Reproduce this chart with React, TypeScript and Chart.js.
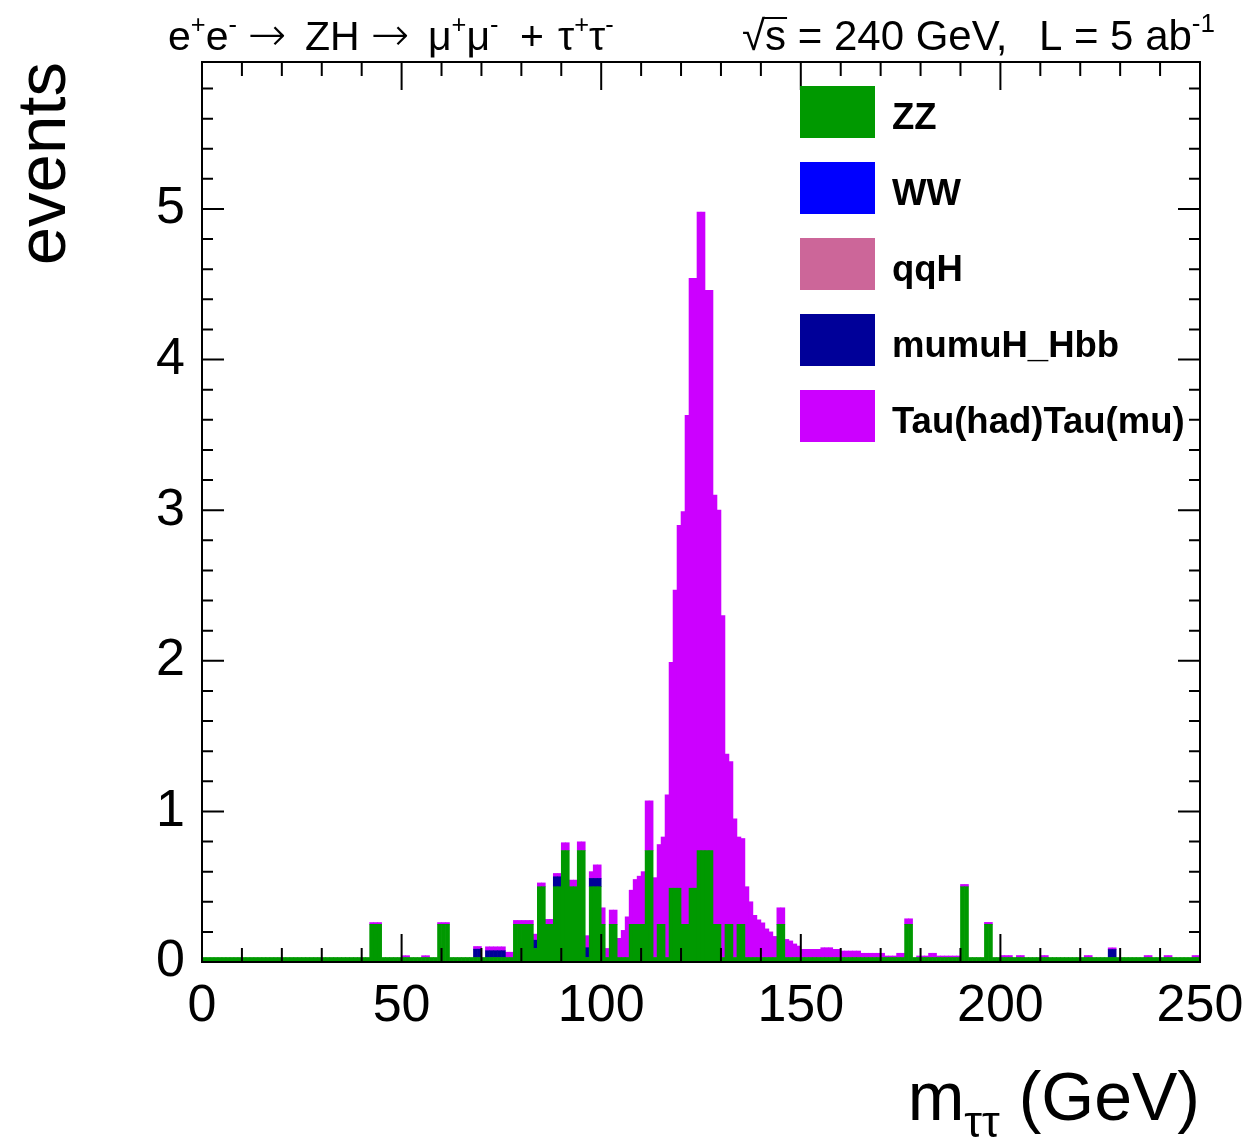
import React, { useEffect, useRef } from 'react';
import { Chart, registerables } from 'chart.js';

Chart.register(...registerables);

// ---------- data ----------
const X_MIN = 0;
const X_MAX = 250;
const BIN_WIDTH = 1; // GeV
const Y_MAX = 5.976;
const X_TICK_LABELS = [0, 50, 100, 150, 200, 250];
const Y_TICK_LABELS = [0, 1, 2, 3, 4, 5];

const SERIES_NAMES = ['ZZ', 'WW', 'qqH', 'mumuH_Hbb', 'Tau(had)Tau(mu)'];
const SERIES_COLORS = ['#009900', '#0000ff', '#cc6699', '#000099', '#cc00ff'];

// bin contents, bin i covers [i, i+1) GeV
const ZZ = [
  0.03, 0.03, 0.03, 0.03, 0.03, 0.03, 0.03, 0.03, 0.03, 0.03,
  0.03, 0.03, 0.03, 0.03, 0.03, 0.03, 0.03, 0.03, 0.03, 0.03,
  0.03, 0.03, 0.03, 0.03, 0.03, 0.03, 0.03, 0.03, 0.03, 0.03,
  0.03, 0.03, 0.03, 0.03, 0.03, 0.03, 0.03, 0.03, 0.03, 0.03,
  0.03, 0.03, 0.25, 0.25, 0.25, 0.03, 0.03, 0.03, 0.03, 0.03,
  0.03, 0.03, 0.03, 0.03, 0.03, 0.03, 0.03, 0.03, 0.03, 0.25,
  0.25, 0.25, 0.03, 0.03, 0.03, 0.03, 0.03, 0.03, 0.03, 0.03,
  0.03, 0.03, 0.03, 0.03, 0.03, 0.03, 0.03, 0.03, 0.25, 0.25,
  0.25, 0.25, 0.25, 0.09, 0.5, 0.5, 0.25, 0.25, 0.5, 0.5,
  0.74, 0.74, 0.5, 0.5, 0.74, 0.74, 0.03, 0.5, 0.5, 0.5,
  0.25, 0.03, 0.25, 0.25, 0.03, 0.03, 0.03, 0.25, 0.25, 0.25,
  0.25, 0.74, 0.74, 0.03, 0.25, 0.25, 0.03, 0.49, 0.49, 0.49,
  0.25, 0.25, 0.49, 0.49, 0.74, 0.74, 0.74, 0.74, 0.25, 0.25,
  0.03, 0.25, 0.25, 0.03, 0.25, 0.25, 0.03, 0.03, 0.03, 0.03,
  0.03, 0.03, 0.03, 0.03, 0.25, 0.25, 0.03, 0.03, 0.03, 0.03,
  0.03, 0.03, 0.03, 0.03, 0.03, 0.03, 0.03, 0.03, 0.03, 0.03,
  0.03, 0.03, 0.03, 0.03, 0.03, 0.03, 0.03, 0.03, 0.03, 0.03,
  0.03, 0.03, 0.03, 0.03, 0.03, 0.03, 0.25, 0.25, 0.03, 0.03,
  0.03, 0.03, 0.03, 0.03, 0.03, 0.03, 0.03, 0.03, 0.03, 0.03,
  0.5, 0.5, 0.03, 0.03, 0.03, 0.03, 0.25, 0.25, 0.03, 0.03,
  0.03, 0.03, 0.03, 0.03, 0.03, 0.03, 0.03, 0.03, 0.03, 0.03,
  0.03, 0.03, 0.03, 0.03, 0.03, 0.03, 0.03, 0.03, 0.03, 0.03,
  0.03, 0.03, 0.03, 0.03, 0.03, 0.03, 0.03, 0.03, 0.03, 0.03,
  0.03, 0.03, 0.03, 0.03, 0.03, 0.03, 0.03, 0.03, 0.03, 0.03,
  0.03, 0.03, 0.03, 0.03, 0.03, 0.03, 0.03, 0.03, 0.03, 0.03,
];

const WW: number[] = [];
const QQH: number[] = [];

const HBB = [
  0, 0, 0, 0, 0, 0, 0, 0, 0, 0,
  0, 0, 0, 0, 0, 0, 0, 0, 0, 0,
  0, 0, 0, 0, 0, 0, 0, 0, 0, 0,
  0, 0, 0, 0, 0, 0, 0, 0, 0, 0,
  0, 0, 0, 0, 0, 0, 0, 0, 0, 0,
  0, 0, 0, 0, 0, 0, 0, 0, 0, 0,
  0, 0, 0, 0, 0, 0, 0, 0, 0.055, 0.055,
  0, 0.045, 0.045, 0.045, 0.045, 0.045, 0, 0, 0, 0,
  0, 0, 0, 0.055, 0, 0, 0, 0, 0.066, 0.066,
  0, 0, 0, 0, 0, 0, 0.065, 0.055, 0.055, 0.055,
  0, 0, 0, 0, 0, 0, 0, 0, 0, 0,
  0, 0, 0, 0, 0, 0, 0, 0, 0, 0,
  0, 0, 0, 0, 0, 0, 0, 0, 0, 0,
  0, 0, 0, 0, 0, 0, 0, 0, 0, 0,
  0, 0, 0, 0, 0, 0, 0, 0, 0, 0,
  0, 0, 0, 0, 0, 0, 0, 0, 0, 0,
  0, 0, 0, 0, 0, 0, 0, 0, 0, 0,
  0, 0, 0, 0, 0, 0, 0, 0, 0, 0,
  0, 0, 0, 0, 0, 0, 0, 0, 0, 0,
  0, 0, 0, 0, 0, 0, 0, 0, 0, 0,
  0, 0, 0, 0, 0, 0, 0, 0, 0, 0,
  0, 0, 0, 0, 0, 0, 0, 0, 0, 0,
  0, 0, 0, 0, 0, 0, 0, 0.053, 0.053, 0,
  0, 0, 0, 0, 0, 0, 0, 0, 0, 0,
  0, 0, 0, 0, 0, 0, 0, 0, 0, 0,
];

const TAUTAU = [
  0, 0, 0, 0, 0, 0, 0, 0, 0, 0,
  0, 0, 0, 0, 0, 0, 0, 0, 0, 0,
  0, 0, 0, 0, 0, 0, 0, 0, 0, 0,
  0, 0, 0, 0, 0, 0, 0, 0, 0, 0,
  0, 0, 0.012, 0.012, 0.012, 0, 0, 0, 0, 0,
  0.012, 0.012, 0, 0, 0, 0.012, 0.012, 0, 0, 0.012,
  0.012, 0.012, 0, 0, 0, 0, 0, 0, 0.018, 0.018,
  0, 0.026, 0.026, 0.026, 0.026, 0.026, 0.035, 0.035, 0.026, 0.026,
  0.026, 0.026, 0.026, 0.04, 0.025, 0.025, 0.033, 0.033, 0.022, 0.022,
  0.052, 0.052, 0.044, 0.044, 0.058, 0.058, 0.08, 0.045, 0.09, 0.09,
  0.11, 0.06, 0.095, 0.095, 0.127, 0.18, 0.27, 0.227, 0.298, 0.32,
  0.35, 0.33, 0.33, 0.53, 0.53, 0.58, 1.08, 1.5, 1.98, 2.41,
  2.74, 3.38, 4.05, 4.05, 4.24, 4.24, 3.72, 3.72, 2.85, 2.75,
  2.27, 1.13, 1.08, 0.92, 0.58, 0.57, 0.47, 0.37, 0.28, 0.25,
  0.23, 0.19, 0.17, 0.14, 0.11, 0.11, 0.12, 0.11, 0.09, 0.076,
  0.054, 0.054, 0.054, 0.054, 0.054, 0.065, 0.065, 0.065, 0.054, 0.054,
  0.043, 0.043, 0.043, 0.043, 0.043, 0.028, 0.028, 0.028, 0.028, 0.028,
  0.028, 0.01, 0.01, 0.01, 0.028, 0.028, 0.037, 0.037, 0, 0.01,
  0.01, 0.01, 0.028, 0.028, 0.01, 0.01, 0.01, 0.01, 0.01, 0.01,
  0.015, 0.015, 0, 0, 0, 0, 0.013, 0.013, 0, 0,
  0.013, 0.013, 0.013, 0, 0.013, 0.013, 0, 0, 0, 0,
  0.013, 0.013, 0, 0, 0, 0, 0, 0, 0, 0,
  0, 0.013, 0.013, 0, 0, 0, 0, 0.011, 0.011, 0,
  0, 0, 0, 0, 0, 0, 0.013, 0.013, 0, 0,
  0, 0.013, 0.013, 0, 0, 0, 0, 0, 0.013, 0.013,
];

const SERIES_VALUES = [ZZ, WW, QQH, HBB, TAUTAU];

// ---------- drawing helpers ----------
const FAMILY = '"Liberation Sans", Arial, Helvetica, sans-serif';
const ARROW_FONT = '200 46px "DejaVu Sans", "Liberation Sans", sans-serif';

type Seg = { t: string; s?: 'sup' | 'sub'; font?: string };

function drawRich(
  ctx: CanvasRenderingContext2D,
  segs: Seg[],
  x: number,
  y: number,
  size: number,
  align: 'left' | 'right',
  smallRatio = 0.62
) {
  const small = size * smallRatio;
  const fontFor = (sg: Seg) => sg.font ?? `${sg.s ? small : size}px ${FAMILY}`;
  const widths = segs.map((sg) => {
    ctx.font = fontFor(sg);
    return ctx.measureText(sg.t).width;
  });
  const total = widths.reduce((a, b) => a + b, 0);
  let cx = align === 'right' ? x - total : x;
  const starts: number[] = [];
  ctx.textAlign = 'left';
  ctx.textBaseline = 'alphabetic';
  segs.forEach((sg, i) => {
    ctx.font = fontFor(sg);
    const dy = sg.s === 'sup' ? -size * 0.42 : sg.s === 'sub' ? size * 0.25 : 0;
    starts.push(cx);
    ctx.fillText(sg.t, cx, y + dy);
    cx += widths[i];
  });
  return { starts, widths, end: cx };
}

const rootStyle = {
  id: 'rootStyle',
  afterDraw(chart: any) {
    const ctx: CanvasRenderingContext2D = chart.ctx;
    const { left, right, top, bottom } = chart.chartArea;
    const xs = chart.scales.x;
    const ys = chart.scales.y;
    ctx.save();
    ctx.strokeStyle = '#000';
    ctx.fillStyle = '#000';
    ctx.lineWidth = 2;

    // ticks (inside, on all four sides)
    ctx.beginPath();
    for (let v = X_MIN; v <= X_MAX; v += 10) {
      const px = xs.getPixelForValue(v);
      const len = v % 50 === 0 ? 28 : 14;
      ctx.moveTo(px, bottom);
      ctx.lineTo(px, bottom - len);
      ctx.moveTo(px, top);
      ctx.lineTo(px, top + len);
    }
    for (let k = 0; k * 0.2 <= Y_MAX; k++) {
      const py = ys.getPixelForValue(k * 0.2);
      const len = k % 5 === 0 ? 22 : 11;
      ctx.moveTo(left, py);
      ctx.lineTo(left + len, py);
      ctx.moveTo(right, py);
      ctx.lineTo(right - len, py);
    }
    ctx.stroke();
    ctx.strokeRect(left, top, right - left, bottom - top);

    // header (left)
    const HB = 50;
    const HS = 41;
    drawRich(ctx, [{ t: 'e' }, { t: '+', s: 'sup' }, { t: 'e' }, { t: '-', s: 'sup' }], 168, HB, HS, 'left');
    drawRich(ctx, [{ t: '\u2192', font: ARROW_FONT }], 248, HB, HS, 'left');
    drawRich(ctx, [{ t: 'ZH' }], 305, HB, HS, 'left');
    drawRich(ctx, [{ t: '\u2192', font: ARROW_FONT }], 371, HB, HS, 'left');
    drawRich(ctx, [{ t: '\u03bc' }, { t: '+', s: 'sup' }, { t: '\u03bc' }, { t: '-', s: 'sup' }], 428, HB, HS, 'left');
    drawRich(ctx, [{ t: '+' }], 520, HB, HS, 'left');
    drawRich(ctx, [{ t: '\u03c4' }, { t: '+', s: 'sup' }, { t: '\u03c4' }, { t: '-', s: 'sup' }], 558, HB, HS, 'left');

    // header (right)
    const r = drawRich(ctx, [{ t: '\u221a' }, { t: 's' }, { t: ' = 240 GeV,' }], 742, HB, 42, 'left');
    ctx.lineWidth = 2;
    ctx.beginPath();
    ctx.moveTo(r.starts[1] - 1, 18);
    ctx.lineTo(r.starts[1] + r.widths[1] + 1, 18);
    ctx.stroke();
    drawRich(ctx, [{ t: 'L = 5 ab' }, { t: '-1', s: 'sup' }], 1215, HB, 42, 'right');

    // axis titles
    drawRich(ctx, [{ t: 'm' }, { t: '\u03c4\u03c4', s: 'sub' }, { t: ' (GeV)' }], 1200, 1120, 68, 'right', 0.66);
    ctx.save();
    ctx.translate(65, 62);
    ctx.rotate(-Math.PI / 2);
    ctx.font = `69px ${FAMILY}`;
    ctx.textAlign = 'right';
    ctx.textBaseline = 'alphabetic';
    ctx.fillText('events', 0, 0);
    ctx.restore();

    // legend
    SERIES_NAMES.forEach((name, i) => {
      const yTop = 86 + i * 76;
      ctx.fillStyle = SERIES_COLORS[i];
      ctx.fillRect(800, yTop, 75, 52);
      ctx.fillStyle = '#000';
      ctx.font = `bold 36.5px ${FAMILY}`;
      ctx.textAlign = 'left';
      ctx.textBaseline = 'alphabetic';
      ctx.fillText(name, 892, yTop + 43);
    });
    ctx.restore();
  },
};

export default function App() {
  const ref = useRef<HTMLCanvasElement | null>(null);

  useEffect(() => {
    if (!ref.current) return;
    const datasets = SERIES_NAMES.map((name, i) => ({
      label: name,
      data: SERIES_VALUES[i]
        .map((v, b) => ({ x: X_MIN + (b + 0.5) * BIN_WIDTH, y: v }))
        .filter((p) => p.y > 0),
      backgroundColor: SERIES_COLORS[i],
      borderWidth: 0,
      barPercentage: 1,
      categoryPercentage: 1,
    }));
    const chart = new Chart(ref.current, {
      type: 'bar',
      data: { datasets },
      options: {
        animation: false,
        responsive: false,
        maintainAspectRatio: false,
        devicePixelRatio: 1,
        layout: { padding: { top: 62, right: 51, left: 0, bottom: 0 } },
        plugins: { legend: { display: false }, tooltip: { enabled: false } },
        scales: {
          x: {
            type: 'linear',
            min: X_MIN,
            max: X_MAX,
            stacked: true,
            offset: false,
            grid: { display: false, drawTicks: false },
            border: { display: false },
            ticks: { color: '#000', font: { family: FAMILY, size: 52 }, padding: 13, maxRotation: 0 },
            afterBuildTicks: (s: any) => {
              s.ticks = X_TICK_LABELS.map((v) => ({ value: v }));
            },
            afterFit: (s: any) => {
              s.height = 1139 - 962;
              s.paddingLeft = 0;
              s.paddingRight = 0;
            },
          },
          y: {
            type: 'linear',
            min: 0,
            max: Y_MAX,
            stacked: true,
            grid: { display: false, drawTicks: false },
            border: { display: false },
            ticks: { color: '#000', font: { family: FAMILY, size: 52 }, padding: 17 },
            afterBuildTicks: (s: any) => {
              s.ticks = Y_TICK_LABELS.map((v) => ({ value: v }));
            },
            afterFit: (s: any) => {
              s.width = 202;
              s.paddingTop = 0;
              s.paddingBottom = 0;
            },
          },
        },
      } as any,
      plugins: [rootStyle],
    });
    return () => chart.destroy();
  }, []);

  return (
    <div style={{ position: 'fixed', left: 0, top: 0, width: 1251, height: 1139, background: '#fff' }}>
      <canvas ref={ref} width={1251} height={1139} style={{ display: 'block', width: 1251, height: 1139 }} />
    </div>
  );
}
